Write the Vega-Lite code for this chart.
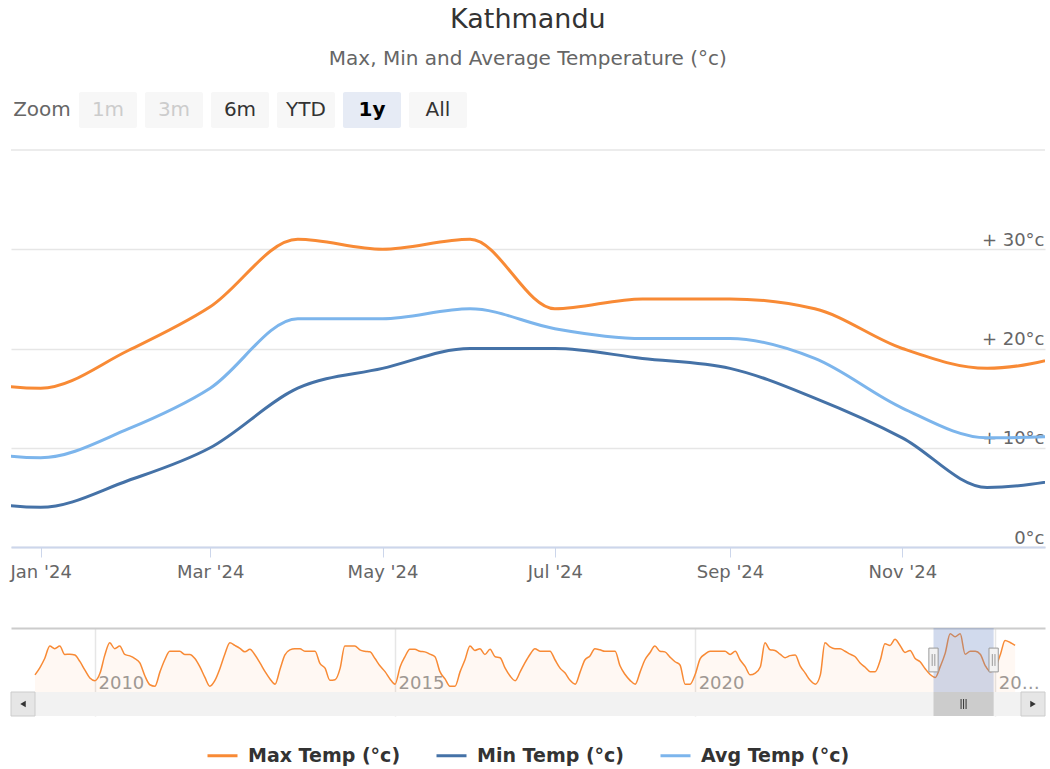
{
  "$schema": "https://vega.github.io/schema/vega-lite/v6.json",
  "padding": {"left": 10, "right": 6, "top": 6, "bottom": 4},
  "background": "#ffffff",
  "title": {
    "text": "Kathmandu",
    "subtitle": "Max, Min and Average Temperature (°c)",
    "anchor": "middle",
    "font": "DejaVu Sans",
    "fontSize": 27,
    "fontWeight": "normal",
    "color": "#333333",
    "subtitleFont": "DejaVu Sans",
    "subtitleFontSize": 20,
    "subtitleColor": "#666666",
    "subtitlePadding": 15,
    "offset": 22
  },
  "config": {
    "view": {"stroke": null},
    "font": "DejaVu Sans",
    "legend": {"layout": {"bottom": {"anchor": "middle"}}}
  },
  "datasets": {
    "buttons": [
      {"b": "Zoom", "state": "label"},
      {"b": "1m", "state": "disabled"},
      {"b": "3m", "state": "disabled"},
      {"b": "6m", "state": "normal"},
      {"b": "YTD", "state": "normal"},
      {"b": "1y", "state": "selected"},
      {"b": "All", "state": "normal"}
    ],
    "temps": [
      {"date": "2023-12-01", "series": "Max Temp (°c)", "value": 17},
      {"date": "2024-01-01", "series": "Max Temp (°c)", "value": 16},
      {"date": "2024-02-01", "series": "Max Temp (°c)", "value": 19.8},
      {"date": "2024-03-01", "series": "Max Temp (°c)", "value": 24.2},
      {"date": "2024-04-01", "series": "Max Temp (°c)", "value": 31},
      {"date": "2024-05-01", "series": "Max Temp (°c)", "value": 30},
      {"date": "2024-06-01", "series": "Max Temp (°c)", "value": 31},
      {"date": "2024-07-01", "series": "Max Temp (°c)", "value": 24},
      {"date": "2024-08-01", "series": "Max Temp (°c)", "value": 25},
      {"date": "2024-09-01", "series": "Max Temp (°c)", "value": 25},
      {"date": "2024-10-01", "series": "Max Temp (°c)", "value": 24},
      {"date": "2024-11-01", "series": "Max Temp (°c)", "value": 20},
      {"date": "2024-12-01", "series": "Max Temp (°c)", "value": 18},
      {"date": "2025-01-01", "series": "Max Temp (°c)", "value": 19.5},
      {"date": "2023-12-01", "series": "Min Temp (°c)", "value": 5},
      {"date": "2024-01-01", "series": "Min Temp (°c)", "value": 4},
      {"date": "2024-02-01", "series": "Min Temp (°c)", "value": 6.7},
      {"date": "2024-03-01", "series": "Min Temp (°c)", "value": 10},
      {"date": "2024-04-01", "series": "Min Temp (°c)", "value": 16},
      {"date": "2024-05-01", "series": "Min Temp (°c)", "value": 18},
      {"date": "2024-06-01", "series": "Min Temp (°c)", "value": 20},
      {"date": "2024-07-01", "series": "Min Temp (°c)", "value": 20},
      {"date": "2024-08-01", "series": "Min Temp (°c)", "value": 19},
      {"date": "2024-09-01", "series": "Min Temp (°c)", "value": 18},
      {"date": "2024-10-01", "series": "Min Temp (°c)", "value": 15},
      {"date": "2024-11-01", "series": "Min Temp (°c)", "value": 11},
      {"date": "2024-12-01", "series": "Min Temp (°c)", "value": 6},
      {"date": "2025-01-01", "series": "Min Temp (°c)", "value": 7},
      {"date": "2023-12-01", "series": "Avg Temp (°c)", "value": 10},
      {"date": "2024-01-01", "series": "Avg Temp (°c)", "value": 9},
      {"date": "2024-02-01", "series": "Avg Temp (°c)", "value": 11.9},
      {"date": "2024-03-01", "series": "Avg Temp (°c)", "value": 16},
      {"date": "2024-04-01", "series": "Avg Temp (°c)", "value": 23},
      {"date": "2024-05-01", "series": "Avg Temp (°c)", "value": 23},
      {"date": "2024-06-01", "series": "Avg Temp (°c)", "value": 24},
      {"date": "2024-07-01", "series": "Avg Temp (°c)", "value": 22},
      {"date": "2024-08-01", "series": "Avg Temp (°c)", "value": 21},
      {"date": "2024-09-01", "series": "Avg Temp (°c)", "value": 21},
      {"date": "2024-10-01", "series": "Avg Temp (°c)", "value": 19},
      {"date": "2024-11-01", "series": "Avg Temp (°c)", "value": 14},
      {"date": "2024-12-01", "series": "Avg Temp (°c)", "value": 11},
      {"date": "2025-01-01", "series": "Avg Temp (°c)", "value": 11.2}
    ],
    "history": [
      {"date": "2009-01-01", "max": 16.9}, {"date": "2009-02-01", "max": 19.5}, {"date": "2009-03-01", "max": 22.5}, {"date": "2009-04-01", "max": 26.8}, {"date": "2009-05-01", "max": 25.9}, {"date": "2009-06-01", "max": 26.8}, {"date": "2009-07-01", "max": 23.9}, {"date": "2009-08-01", "max": 24}, {"date": "2009-09-01", "max": 23.7}, {"date": "2009-10-01", "max": 21.5}, {"date": "2009-11-01", "max": 18.5}, {"date": "2009-12-01", "max": 15.8},
      {"date": "2010-01-01", "max": 14.9}, {"date": "2010-02-01", "max": 17.5}, {"date": "2010-03-01", "max": 23.5}, {"date": "2010-04-01", "max": 27.9}, {"date": "2010-05-01", "max": 25.9}, {"date": "2010-06-01", "max": 26.8}, {"date": "2010-07-01", "max": 23.9}, {"date": "2010-08-01", "max": 23.4}, {"date": "2010-09-01", "max": 22.5}, {"date": "2010-10-01", "max": 21}, {"date": "2010-11-01", "max": 16.5}, {"date": "2010-12-01", "max": 13.5},
      {"date": "2011-01-01", "max": 13}, {"date": "2011-02-01", "max": 18}, {"date": "2011-03-01", "max": 22}, {"date": "2011-04-01", "max": 25}, {"date": "2011-05-01", "max": 25}, {"date": "2011-06-01", "max": 25}, {"date": "2011-07-01", "max": 23.9}, {"date": "2011-08-01", "max": 23.9}, {"date": "2011-09-01", "max": 22.5}, {"date": "2011-10-01", "max": 19.7}, {"date": "2011-11-01", "max": 16}, {"date": "2011-12-01", "max": 13},
      {"date": "2012-01-01", "max": 15}, {"date": "2012-02-01", "max": 19.2}, {"date": "2012-03-01", "max": 24}, {"date": "2012-04-01", "max": 27.9}, {"date": "2012-05-01", "max": 27}, {"date": "2012-06-01", "max": 26}, {"date": "2012-07-01", "max": 24.8}, {"date": "2012-08-01", "max": 25.7}, {"date": "2012-09-01", "max": 23.7}, {"date": "2012-10-01", "max": 21}, {"date": "2012-11-01", "max": 18}, {"date": "2012-12-01", "max": 15.5},
      {"date": "2013-01-01", "max": 13.7}, {"date": "2013-02-01", "max": 19}, {"date": "2013-03-01", "max": 23.7}, {"date": "2013-04-01", "max": 25.5}, {"date": "2013-05-01", "max": 25.9}, {"date": "2013-06-01", "max": 25.9}, {"date": "2013-07-01", "max": 25}, {"date": "2013-08-01", "max": 25}, {"date": "2013-09-01", "max": 25}, {"date": "2013-10-01", "max": 20.8}, {"date": "2013-11-01", "max": 19.2}, {"date": "2013-12-01", "max": 15},
      {"date": "2014-01-01", "max": 15.2}, {"date": "2014-02-01", "max": 19.2}, {"date": "2014-03-01", "max": 26.8}, {"date": "2014-04-01", "max": 26.8}, {"date": "2014-05-01", "max": 26.8}, {"date": "2014-06-01", "max": 25.5}, {"date": "2014-07-01", "max": 25}, {"date": "2014-08-01", "max": 24.8}, {"date": "2014-09-01", "max": 22.5}, {"date": "2014-10-01", "max": 20}, {"date": "2014-11-01", "max": 18}, {"date": "2014-12-01", "max": 15.5},
      {"date": "2015-01-01", "max": 13.7}, {"date": "2015-02-01", "max": 19.7}, {"date": "2015-03-01", "max": 23}, {"date": "2015-04-01", "max": 25.7}, {"date": "2015-05-01", "max": 25.7}, {"date": "2015-06-01", "max": 25}, {"date": "2015-07-01", "max": 24.8}, {"date": "2015-08-01", "max": 24}, {"date": "2015-09-01", "max": 23.1}, {"date": "2015-10-01", "max": 18}, {"date": "2015-11-01", "max": 15.5}, {"date": "2015-12-01", "max": 13},
      {"date": "2016-01-01", "max": 13}, {"date": "2016-02-01", "max": 18}, {"date": "2016-03-01", "max": 22}, {"date": "2016-04-01", "max": 26.8}, {"date": "2016-05-01", "max": 25.3}, {"date": "2016-06-01", "max": 25.9}, {"date": "2016-07-01", "max": 23.9}, {"date": "2016-08-01", "max": 25.7}, {"date": "2016-09-01", "max": 23.1}, {"date": "2016-10-01", "max": 22.8}, {"date": "2016-11-01", "max": 19.2}, {"date": "2016-12-01", "max": 16.5},
      {"date": "2017-01-01", "max": 14.9}, {"date": "2017-02-01", "max": 18}, {"date": "2017-03-01", "max": 21}, {"date": "2017-04-01", "max": 23.9}, {"date": "2017-05-01", "max": 25.9}, {"date": "2017-06-01", "max": 25}, {"date": "2017-07-01", "max": 25}, {"date": "2017-08-01", "max": 25}, {"date": "2017-09-01", "max": 22}, {"date": "2017-10-01", "max": 19.2}, {"date": "2017-11-01", "max": 17.5}, {"date": "2017-12-01", "max": 15},
      {"date": "2018-01-01", "max": 13.7}, {"date": "2018-02-01", "max": 18}, {"date": "2018-03-01", "max": 22}, {"date": "2018-04-01", "max": 23.4}, {"date": "2018-05-01", "max": 25.9}, {"date": "2018-06-01", "max": 25.5}, {"date": "2018-07-01", "max": 25}, {"date": "2018-08-01", "max": 25}, {"date": "2018-09-01", "max": 25}, {"date": "2018-10-01", "max": 20}, {"date": "2018-11-01", "max": 17}, {"date": "2018-12-01", "max": 15},
      {"date": "2019-01-01", "max": 13.7}, {"date": "2019-02-01", "max": 18}, {"date": "2019-03-01", "max": 22}, {"date": "2019-04-01", "max": 24.5}, {"date": "2019-05-01", "max": 26.8}, {"date": "2019-06-01", "max": 25}, {"date": "2019-07-01", "max": 24.8}, {"date": "2019-08-01", "max": 23}, {"date": "2019-09-01", "max": 21.4}, {"date": "2019-10-01", "max": 20.3}, {"date": "2019-11-01", "max": 13.7}, {"date": "2019-12-01", "max": 13.7},
      {"date": "2020-01-01", "max": 17}, {"date": "2020-02-01", "max": 22.5}, {"date": "2020-03-01", "max": 24}, {"date": "2020-04-01", "max": 25}, {"date": "2020-05-01", "max": 25}, {"date": "2020-06-01", "max": 25}, {"date": "2020-07-01", "max": 25}, {"date": "2020-08-01", "max": 23.9}, {"date": "2020-09-01", "max": 25}, {"date": "2020-10-01", "max": 22}, {"date": "2020-11-01", "max": 19.7}, {"date": "2020-12-01", "max": 16.9},
      {"date": "2021-01-01", "max": 17.5}, {"date": "2021-02-01", "max": 19.7}, {"date": "2021-03-01", "max": 27.9}, {"date": "2021-04-01", "max": 25.5}, {"date": "2021-05-01", "max": 25.3}, {"date": "2021-06-01", "max": 24}, {"date": "2021-07-01", "max": 22.8}, {"date": "2021-08-01", "max": 23.5}, {"date": "2021-09-01", "max": 23.7}, {"date": "2021-10-01", "max": 20}, {"date": "2021-11-01", "max": 17.5}, {"date": "2021-12-01", "max": 15},
      {"date": "2022-01-01", "max": 13.7}, {"date": "2022-02-01", "max": 16.9}, {"date": "2022-03-01", "max": 27.9}, {"date": "2022-04-01", "max": 26.5}, {"date": "2022-05-01", "max": 25.9}, {"date": "2022-06-01", "max": 25.9}, {"date": "2022-07-01", "max": 25}, {"date": "2022-08-01", "max": 24}, {"date": "2022-09-01", "max": 23.1}, {"date": "2022-10-01", "max": 21}, {"date": "2022-11-01", "max": 19.5}, {"date": "2022-12-01", "max": 18},
      {"date": "2023-01-01", "max": 18}, {"date": "2023-02-01", "max": 22}, {"date": "2023-03-01", "max": 27.6}, {"date": "2023-04-01", "max": 27}, {"date": "2023-05-01", "max": 29.1}, {"date": "2023-06-01", "max": 27}, {"date": "2023-07-01", "max": 24.6}, {"date": "2023-08-01", "max": 25.3}, {"date": "2023-09-01", "max": 22.5}, {"date": "2023-10-01", "max": 21.4}, {"date": "2023-11-01", "max": 19}, {"date": "2023-12-01", "max": 17},
      {"date": "2024-01-01", "max": 16}, {"date": "2024-02-01", "max": 19.8}, {"date": "2024-03-01", "max": 24.2}, {"date": "2024-04-01", "max": 31}, {"date": "2024-05-01", "max": 30}, {"date": "2024-06-01", "max": 31}, {"date": "2024-07-01", "max": 24}, {"date": "2024-08-01", "max": 25}, {"date": "2024-09-01", "max": 25}, {"date": "2024-10-01", "max": 24}, {"date": "2024-11-01", "max": 20}, {"date": "2024-12-01", "max": 18},
      {"date": "2025-01-01", "max": 19.5}, {"date": "2025-02-01", "max": 24}, {"date": "2025-03-01", "max": 28.7}, {"date": "2025-04-01", "max": 28}, {"date": "2025-05-01", "max": 27}
    ],
    "sel": [{"from": "2023-12-21T12:00:00Z", "to": "2024-12-21T12:00:00Z", "mid": "2024-06-21T12:00:00Z"}],
    "handles": [{"d": "2023-12-21T12:00:00Z"}, {"d": "2024-12-21T12:00:00Z"}],
    "scrollparts": [
      {"part": "track", "from": "2008-08-08", "to": "2025-10-30"},
      {"part": "left", "from": "2008-08-08", "to": "2009-01-01"},
      {"part": "right", "from": "2025-06-06", "to": "2025-10-30"}
    ],
    "arrows": [
      {"dir": "left", "d": "2008-10-20"},
      {"dir": "right", "d": "2025-08-18"}
    ],
    "top": [{"level": 40}]
  },
  "spacing": 21,
  "vconcat": [
    {
      "width": 458,
      "height": 36,
      "data": {"name": "buttons"},
      "encoding": {
        "x": {"field": "b", "type": "nominal", "axis": null,
              "scale": {"domain": ["Zoom", "1m", "3m", "6m", "YTD", "1y", "All"],
                        "paddingInner": 0.1212, "paddingOuter": 0.0303}}
      },
      "layer": [
        {
          "transform": [{"filter": "datum.state !== 'label'"}],
          "mark": {"type": "rect", "cornerRadius": 2},
          "encoding": {
            "color": {"condition": {"test": "datum.state === 'selected'", "value": "#e6ebf5"}, "value": "#f7f7f7"}
          }
        },
        {
          "transform": [{"filter": "datum.state !== 'selected'"}],
          "mark": {"type": "text", "fontSize": 20, "baseline": "middle", "font": "DejaVu Sans"},
          "encoding": {
            "text": {"field": "b"},
            "color": {"condition": [
              {"test": "datum.state === 'disabled'", "value": "#cccccc"},
              {"test": "datum.state === 'label'", "value": "#666666"}
            ], "value": "#333333"}
          }
        },
        {
          "transform": [{"filter": "datum.state === 'selected'"}],
          "mark": {"type": "text", "fontSize": 20, "baseline": "middle", "fontWeight": "bold", "color": "#000000", "font": "DejaVu Sans"},
          "encoding": {"text": {"field": "b"}}
        }
      ]
    },
    {
      "width": 1034,
      "height": 397,
      "layer": [
        {
          "data": {"name": "top"},
          "mark": {"type": "rule", "color": "#e6e6e6", "strokeWidth": 1.5},
          "encoding": {"y": {"field": "level", "type": "quantitative"}}
        },
        {
          "data": {"name": "temps"},
          "mark": {"type": "line", "interpolate": "monotone", "strokeWidth": 3, "clip": true},
          "encoding": {
            "x": {
              "field": "date", "type": "temporal",
              "scale": {"domain": [
                {"year": 2023, "month": 12, "date": 21, "hours": 12, "utc": true},
                {"year": 2024, "month": 12, "date": 21, "hours": 12, "utc": true}
              ]},
              "axis": {
                "title": null,
                "tickCount": {"interval": "month", "step": 2},
                "format": "%b '%y",
                "grid": false,
                "domainColor": "#ccd6eb",
                "domainWidth": 2,
                "tickColor": "#ccd6eb",
                "tickSize": 10,
                "tickWidth": 1,
                "labelFont": "DejaVu Sans",
                "labelFontSize": 18,
                "labelColor": "#666666",
                "labelPadding": 6,
                "labelFlush": false,
                "labelOverlap": false
              }
            },
            "y": {
              "field": "value", "type": "quantitative",
              "scale": {"domain": [0, 40]},
              "axis": {
                "orient": "right",
                "title": null,
                "values": [0, 10, 20, 30],
                "domain": false,
                "ticks": false,
                "grid": true,
                "gridColor": "#e6e6e6",
                "gridWidth": 1.5,
                "labelAlign": "right",
                "labelBaseline": "alphabetic",
                "labelPadding": -1,
                "labelOffset": -4,
                "labelFlush": false,
                "labelOverlap": false,
                "labelFont": "DejaVu Sans",
                "labelFontSize": 18,
                "labelColor": "#666666",
                "labelExpr": "datum.value == 0 ? '0°c' : '+ ' + datum.value + '°c'"
              }
            },
            "color": {
              "field": "series", "type": "nominal",
              "scale": {
                "domain": ["Max Temp (°c)", "Min Temp (°c)", "Avg Temp (°c)"],
                "range": ["#f88a35", "#4572a7", "#7cb5ec"]
              },
              "legend": {
                "title": null,
                "orient": "bottom",
                "direction": "horizontal",
                "symbolType": "stroke",
                "symbolStrokeWidth": 3,
                "symbolSize": 900,
                "labelFont": "DejaVu Sans",
                "labelFontSize": 19,
                "labelFontWeight": "bold",
                "labelColor": "#333333",
                "labelOffset": 9,
                "columnPadding": 29,
                "offset": 22
              }
            }
          }
        }
      ]
    },
    {
      "width": 1034,
      "height": 88,
      "resolve": {"axis": {"x": "independent"}},
      "layer": [
        {
          "data": {"name": "history"},
          "mark": {"type": "area", "interpolate": "monotone", "color": "#f88a35", "fillOpacity": 0.06,
                   "line": {"color": "#f88a35", "strokeWidth": 1.5}},
          "encoding": {
            "x": {
              "field": "date", "type": "temporal",
              "scale": {"domain": [
                {"year": 2008, "month": 8, "date": 8, "utc": true},
                {"year": 2025, "month": 10, "date": 30, "utc": true}
              ]},
              "axis": {
                "title": null,
                "orient": "bottom",
                "tickCount": {"interval": "year", "step": 5},
                "format": "%Y",
                "grid": true,
                "gridColor": "#e6e6e6",
                "gridWidth": 1.5,
                "domain": false,
                "ticks": false,
                "labelAlign": "left",
                "labelBaseline": "alphabetic",
                "labelPadding": -28,
                "labelOffset": 3,
                "labelFlush": false,
                "labelOverlap": false,
                "labelFont": "DejaVu Sans",
                "labelFontSize": 18,
                "labelColor": "#999999",
                "labelExpr": "year(datum.value) >= 2025 ? '20…' : datum.label"
              }
            },
            "y": {"field": "max", "type": "quantitative", "scale": {"domain": [2.75, 33], "nice": false, "zero": false}, "axis": null},
            "y2": {"datum": 11}
          }
        },
        {
          "data": {"name": "sel"},
          "mark": {"type": "rect", "color": "#6685c2", "opacity": 0.3},
          "encoding": {
            "x": {"field": "from", "type": "temporal",
                  "axis": {"orient": "top", "title": null, "labels": false, "ticks": true, "tickOpacity": 0,
                           "tickSize": 26, "grid": false, "tickCount": 2,
                           "domain": true, "domainColor": "#cccccc", "domainWidth": 2}},
            "x2": {"field": "to"},
            "y": {"datum": 11},
            "y2": {"datum": 33}
          }
        },
        {
          "data": {"name": "handles"},
          "mark": {"type": "point", "shape": "M-0.35,-0.9H0.35V0.9H-0.35Z M-0.1,-0.45V0.45 M0.1,-0.45V0.45",
                   "size": 700, "filled": false, "fill": "#f2f2f2", "stroke": "#999999", "strokeWidth": 1, "opacity": 1},
          "encoding": {"x": {"field": "d", "type": "temporal", "axis": null}, "y": {"datum": 22}}
        },
        {
          "data": {"name": "scrollparts"},
          "transform": [{"filter": "datum.part === 'track'"}],
          "mark": {"type": "rect", "color": "#f2f2f2"},
          "encoding": {
            "x": {"field": "from", "type": "temporal", "axis": null},
            "x2": {"field": "to"},
            "y": {"datum": 2.75},
            "y2": {"datum": 11}
          }
        },
        {
          "data": {"name": "sel"},
          "mark": {"type": "rect", "color": "#cccccc"},
          "encoding": {
            "x": {"field": "from", "type": "temporal", "axis": null},
            "x2": {"field": "to"},
            "y": {"datum": 2.75},
            "y2": {"datum": 11}
          }
        },
        {
          "data": {"name": "sel"},
          "mark": {"type": "point", "shape": "M-0.5,-1V1M0,-1V1M0.5,-1V1", "size": 100, "filled": false,
                   "stroke": "#333333", "strokeWidth": 1, "opacity": 1},
          "encoding": {"x": {"field": "mid", "type": "temporal", "axis": null}, "y": {"datum": 6.875}}
        },
        {
          "data": {"name": "scrollparts"},
          "transform": [{"filter": "datum.part !== 'track'"}],
          "mark": {"type": "rect", "fill": "#e6e6e6", "stroke": "#cccccc", "strokeWidth": 1},
          "encoding": {
            "x": {"field": "from", "type": "temporal", "axis": null},
            "x2": {"field": "to"},
            "y": {"datum": 2.75},
            "y2": {"datum": 11}
          }
        },
        {
          "data": {"name": "arrows"},
          "mark": {"type": "point", "filled": true, "color": "#333333", "size": 40, "opacity": 1},
          "encoding": {
            "x": {"field": "d", "type": "temporal", "axis": null},
            "y": {"datum": 6.875},
            "shape": {"field": "dir", "type": "nominal",
                      "scale": {"domain": ["left", "right"], "range": ["triangle-left", "triangle-right"]},
                      "legend": null}
          }
        }
      ]
    }
  ]
}
